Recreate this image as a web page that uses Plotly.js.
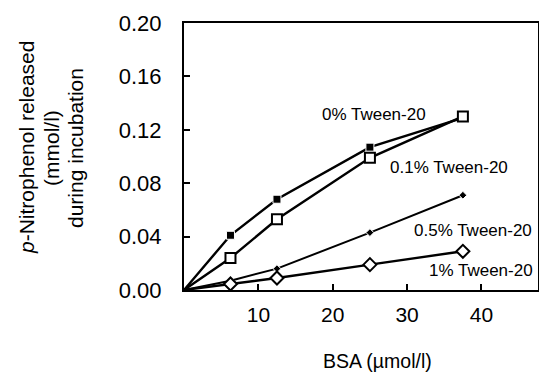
<!DOCTYPE html>
<html>
<head>
<meta charset="utf-8">
<script src="https://cdn.plot.ly/plotly-3.0.1.min.js"></script>
<style>html,body{margin:0;padding:0;background:#fff;}#chart{width:539px;height:374px;}</style>
</head>
<body>
<div id="chart"></div>
<script>
// BSA concentrations (µmol/l); lines start at the origin
const bsa = [0, 6.25, 12.5, 25, 37.5];
const tween0   = [0, 0.041, 0.068, 0.107, 0.129];
const tween01  = [0, 0.024, 0.053, 0.099, 0.130];
const tween05  = [0, 0.007, 0.016, 0.043, 0.071];
const tween1   = [0, 0.0045, 0.009, 0.019, 0.029];
const seriesNames = ['0% Tween-20', '0.1% Tween-20', '0.5% Tween-20', '1% Tween-20'];
const xTicks = [10, 20, 30, 40];
const yTicks = [0, 0.04, 0.08, 0.12, 0.16, 0.20];

const W = 539, H = 374, L = 184, R = 1, T = 23, B = 84;
const pw = W - L - R, ph = H - T - B;
const px = x => (x - L) / pw;
const py = y => (H - B - y) / ph;

function sizes(s) { return bsa.map((v, i) => i === 0 ? 0 : s); }

const font = 'Liberation Sans, Arial, Helvetica, sans-serif';
const traces = [
  {x: bsa, y: tween0, name: seriesNames[0], mode: 'lines+markers',
   line: {color: '#000', width: 2.4},
   marker: {symbol: 'square', size: sizes(8), color: '#000', opacity: 1}},
  {x: bsa, y: tween01, name: seriesNames[1], mode: 'lines+markers',
   line: {color: '#000', width: 2.4},
   marker: {symbol: 'square', size: sizes(10), color: 'rgb(255,255,255)', opacity: 1,
            line: {color: 'rgb(0,0,0)', width: 2}}},
  {x: bsa, y: tween05, name: seriesNames[2], mode: 'lines+markers',
   line: {color: '#000', width: 2},
   marker: {symbol: 'diamond', size: sizes(6), color: '#000', opacity: 1}},
  {x: bsa, y: tween1, name: seriesNames[3], mode: 'lines+markers',
   line: {color: '#000', width: 2.4},
   marker: {symbol: 'diamond', size: sizes(10), color: 'rgb(255,255,255)', opacity: 1,
            line: {color: 'rgb(0,0,0)', width: 2}}}
];

const labelPos = [[374, 115], [449, 167], [473, 230], [481, 270]];
const annotations = seriesNames.map((n, i) => ({
  text: n, xref: 'paper', yref: 'paper', x: px(labelPos[i][0]), y: py(labelPos[i][1]),
  xanchor: 'center', yanchor: 'middle', showarrow: false,
  font: {family: font, size: 17, color: '#000'}
}));
annotations.push({
  text: 'BSA (µmol/l)', xref: 'paper', yref: 'paper', x: px(377), y: py(361.5),
  xanchor: 'center', yanchor: 'middle', showarrow: false,
  font: {family: font, size: 19.5, color: '#000'}
});
const ytitle = ['<i>p</i>-Nitrophenol released', '(mmol/l)', 'during incubation'];
const ytx = [26, 51, 75];
ytitle.forEach((t, i) => annotations.push({
  text: t, xref: 'paper', yref: 'paper', x: px(ytx[i]), y: py(148),
  xanchor: 'center', yanchor: 'middle', textangle: -90, showarrow: false,
  font: {family: font, size: 21, color: '#000'}
}));

const layout = {
  width: W, height: H,
  margin: {l: L, r: R, t: T, b: B, pad: 0},
  paper_bgcolor: '#fff', plot_bgcolor: '#fff',
  showlegend: false,
  font: {family: font, color: '#000'},
  xaxis: {
    range: [0, 47.6], tickvals: xTicks, ticktext: xTicks.map(String),
    ticks: 'inside', ticklen: 6, tickwidth: 2, tickcolor: '#000',
    showline: true, linecolor: '#000', linewidth: 2, mirror: true,
    showgrid: false, zeroline: false,
    tickfont: {family: font, size: 21, color: '#000'}, ticklabelstandoff: 5
  },
  yaxis: {
    range: [0, 0.2], tickvals: yTicks, ticktext: yTicks.map(v => v.toFixed(2)),
    ticks: 'inside', ticklen: 6, tickwidth: 2, tickcolor: '#000',
    showline: true, linecolor: '#000', linewidth: 2, mirror: true,
    showgrid: false, zeroline: false,
    tickfont: {family: font, size: 22, color: '#000'}, ticklabelstandoff: 16
  },
  annotations: annotations
};

Plotly.newPlot('chart', traces, layout, {staticPlot: true, displayModeBar: false});
</script>
</body>
</html>
